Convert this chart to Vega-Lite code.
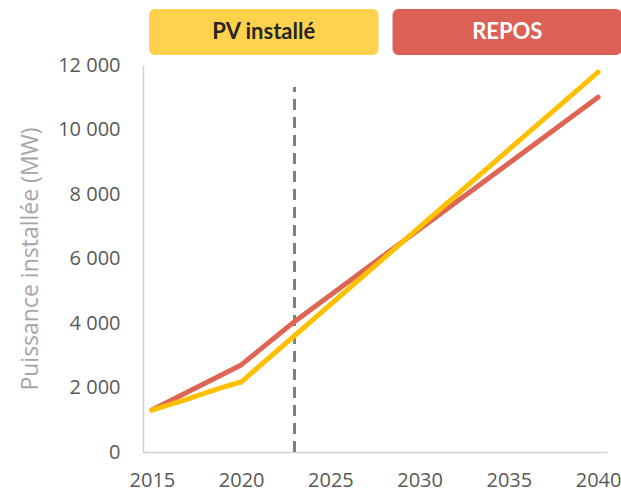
{
  "$schema": "https://vega.github.io/schema/vega-lite/v6.json",
  "padding": {"left": 19, "top": 9, "right": 0, "bottom": 0},
  "background": "white",
  "config": {
    "view": {"stroke": null},
    "font": "Open Sans",
    "axis": {"labelFont": "Open Sans", "titleFont": "Open Sans", "grid": false}
  },
  "spacing": 0,
  "vconcat": [
    {
      "width": 479,
      "height": 46,
      "data": {"values": [{"series": "PV installé"}, {"series": "REPOS"}]},
      "layer": [
        {
          "mark": {"type": "rect", "cornerRadius": 6},
          "encoding": {
            "x": {"field": "series", "type": "nominal", "axis": null,
                  "scale": {"paddingInner": 0.0577, "paddingOuter": 0.0124, "align": 1}},
            "color": {"field": "series", "type": "nominal", "legend": null,
                      "scale": {"domain": ["PV installé", "REPOS"], "range": ["#FFD24D", "#DB6157"]}}
          }
        },
        {
          "mark": {"type": "text", "font": "Lato", "fontSize": 22, "fontWeight": "bold", "baseline": "middle", "align": "center"},
          "encoding": {
            "x": {"field": "series", "type": "nominal", "axis": null},
            "text": {"field": "series"},
            "color": {"condition": {"test": "datum.series === 'REPOS'", "value": "#ffffff"}, "value": "#262626"}
          }
        }
      ]
    },
    {
      "width": 464,
      "height": 387,
      "data": {"values": [
        {"year": 2015, "series": "REPOS", "mw": 1300},
        {"year": 2020, "series": "REPOS", "mw": 2700},
        {"year": 2021, "series": "REPOS", "mw": 3150},
        {"year": 2022, "series": "REPOS", "mw": 3600},
        {"year": 2023, "series": "REPOS", "mw": 4050},
        {"year": 2040, "series": "REPOS", "mw": 11000},
        {"year": 2015, "series": "PV installé", "mw": 1300},
        {"year": 2016, "series": "PV installé", "mw": 1470},
        {"year": 2017, "series": "PV installé", "mw": 1640},
        {"year": 2018, "series": "PV installé", "mw": 1830},
        {"year": 2019, "series": "PV installé", "mw": 2010},
        {"year": 2020, "series": "PV installé", "mw": 2170},
        {"year": 2040, "series": "PV installé", "mw": 11780}
      ]},
      "encoding": {
        "x": {"field": "year", "type": "quantitative",
              "scale": {"domain": [2014.5, 2040.5], "nice": false, "zero": false},
              "axis": {"values": [2015, 2020, 2025, 2030, 2035, 2040], "format": "d", "title": null,
                       "ticks": false, "labelFontSize": 20, "labelColor": "#595959", "labelPadding": 18,
                       "domainColor": "#d0d0d0", "domainWidth": 1.5, "labelFlush": false}},
        "y": {"field": "mw", "type": "quantitative",
              "scale": {"domain": [0, 12000], "nice": false},
              "axis": {"values": [0, 2000, 4000, 6000, 8000, 10000, 12000],
                       "labelExpr": "replace(format(datum.value, ',d'), ',', ' ')",
                       "title": "Puissance installée (MW)", "titleFontSize": 23, "titleFontWeight": "normal",
                       "titleColor": "#a6a6a6", "titlePadding": 15,
                       "ticks": false, "labelFontSize": 20, "labelColor": "#595959", "labelPadding": 23,
                       "domainColor": "#d0d0d0", "domainWidth": 1.5}}
      },
      "layer": [
        {
          "mark": {"type": "rule", "color": "#7f7f7f", "strokeWidth": 2.5, "strokeDash": [11, 7]},
          "encoding": {
            "x": {"datum": 2023, "type": "quantitative"},
            "y": {"datum": 0, "type": "quantitative"},
            "y2": {"datum": 11300}
          }
        },
        {
          "transform": [{"filter": "datum.series === 'REPOS'"}],
          "mark": {"type": "line", "strokeWidth": 5, "strokeCap": "round", "strokeJoin": "round", "color": "#DE6554"}
        },
        {
          "transform": [{"filter": "datum.series === 'PV installé'"}],
          "mark": {"type": "line", "strokeWidth": 5, "strokeCap": "round", "strokeJoin": "round", "color": "#FFC000"}
        }
      ]
    }
  ]
}
